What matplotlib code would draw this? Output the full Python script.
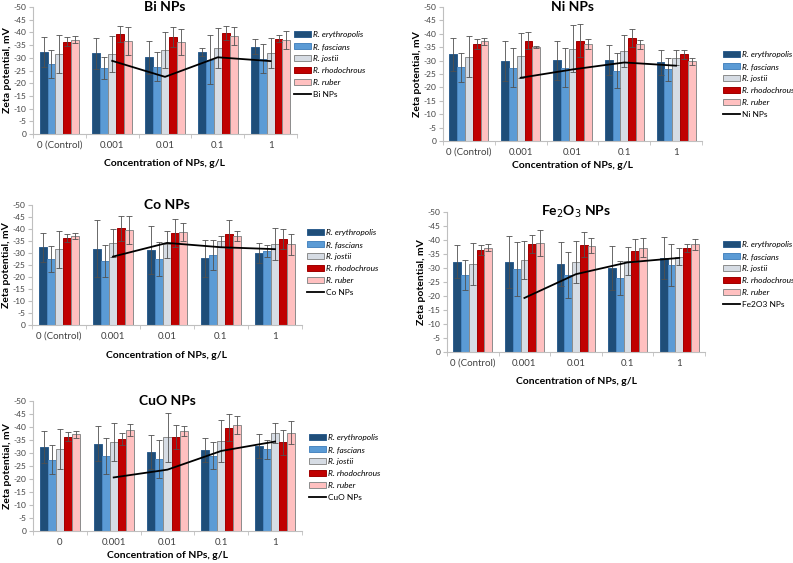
import numpy as np
import matplotlib
matplotlib.use("Agg")
import matplotlib.pyplot as plt

plt.rcParams['font.family'] = ['Lato', 'DejaVu Sans']

# data (zeta potential, mV, plotted as negative values)
species = ['R. erythropolis', 'R. fascians', 'R. jostii', 'R. rhodochrous', 'R. ruber']
conc_labels = ['0 (Control)', '0.001', '0.01', '0.1', '1']
conc_labels_cuo = ['0', '0.001', '0.01', '0.1', '1']

control = [32.3, 27.5, 31.5, 36.3, 37.2]
control_err = [6.0, 5.5, 7.6, 1.8, 1.3]

# rows = species, columns = 0.001, 0.01, 0.1, 1
bi_vals = [[31.7, 30.3, 32.3, 34.3],
           [26.0, 26.5, 29.3, 29.7],
           [31.5, 33.0, 33.8, 31.8],
           [39.5, 38.2, 39.8, 37.5],
           [36.6, 36.2, 38.5, 37.0]]
bi_err = [[6.0, 6.5, 1.5, 3.0],
          [4.5, 5.6, 9.6, 5.7],
          [7.0, 7.0, 7.8, 6.0],
          [3.2, 4.0, 2.6, 1.4],
          [5.5, 5.2, 3.5, 3.4]]
bi_line = [28.8, 22.5, 30.2, 28.7]

ni_vals = [[29.8, 30.1, 30.4, 29.4],
           [27.4, 27.4, 26.2, 26.8],
           [31.8, 34.5, 33.6, 31.1],
           [37.5, 37.5, 38.4, 32.3],
           [35.0, 36.2, 36.1, 29.7]]
ni_err = [[7.4, 7.3, 5.6, 4.6],
          [7.4, 7.4, 6.5, 4.3],
          [8.4, 8.9, 6.0, 2.7],
          [3.2, 6.2, 3.5, 1.7],
          [0.3, 2.0, 1.7, 1.4]]
ni_line = [23.6, 26.7, 29.3, 28.1]

co_vals = [[31.8, 31.3, 27.8, 30.0],
           [26.7, 27.5, 29.3, 30.9],
           [34.1, 33.6, 34.9, 33.7],
           [40.3, 38.3, 37.9, 35.8],
           [39.6, 38.7, 37.1, 33.6]]
co_err = [[12.0, 10.0, 7.6, 4.2],
          [6.7, 7.1, 6.3, 2.5],
          [5.9, 5.6, 2.2, 6.6],
          [5.1, 5.8, 5.7, 4.2],
          [5.8, 3.8, 2.1, 4.3]]
co_line = [28.5, 34.2, 32.4, 31.6]

fe_vals = [[32.1, 31.5, 30.0, 33.6],
           [29.7, 27.6, 26.3, 31.0],
           [32.9, 32.2, 32.5, 34.0],
           [38.6, 38.3, 36.2, 37.2],
           [39.0, 37.9, 37.3, 38.4]]
fe_err = [[9.3, 7.9, 7.8, 7.5],
          [9.7, 8.2, 6.1, 7.5],
          [6.8, 7.5, 5.1, 3.0],
          [3.2, 4.5, 4.2, 1.5],
          [4.6, 2.7, 3.5, 2.1]]
fe_line = [19.3, 27.8, 32.0, 33.6]

cuo_vals = [[33.6, 30.5, 31.1, 32.8],
            [28.9, 27.7, 28.9, 31.4],
            [34.2, 36.0, 34.6, 37.8],
            [35.4, 36.2, 39.8, 34.1],
            [38.8, 38.5, 40.7, 37.8]]
cuo_err = [[6.8, 6.5, 4.5, 4.6],
           [6.9, 7.3, 5.2, 3.6],
           [7.3, 9.4, 8.2, 3.8],
           [2.3, 4.6, 5.2, 4.8],
           [2.3, 1.9, 3.5, 4.5]]
cuo_line = [20.6, 23.6, 30.8, 34.4]

colors = ['#1F4E79', '#5B9BD5', '#D6DCE4', '#C00000', '#FFC0C0']
edges = ['#2F5F8F', '#4A86C0', '#8C8C8C', '#A00000', '#8C8C8C']

W, H = 793, 563
fig = plt.figure(figsize=(W / 100, H / 100), dpi=100)


def panel(rect, title, vals, errs, line, line_label, xlabels, legend_xy, xlabel_y):
    x0, y_top, x1, y_bot = rect
    ax = fig.add_axes([x0 / W, 1 - y_bot / H, (x1 - x0) / W, (y_bot - y_top) / H])
    x = np.arange(5)
    bw = 0.15
    for i in range(5):
        v = [control[i]] + vals[i]
        e = [control_err[i]] + errs[i]
        ax.bar(x + (i - 2) * bw, -np.array(v), bw, color=colors[i], edgecolor=edges[i],
               linewidth=0.7, label=species[i])
        ax.errorbar(x + (i - 2) * bw, -np.array(v), yerr=e, fmt='none', ecolor='#505050',
                    elinewidth=0.6, capsize=2, capthick=0.6)
    ax.plot(x[1:], -np.array(line), color='black', lw=1.3, label=line_label)
    ax.set_ylim(0, -50)
    ax.set_xlim(-0.5, 4.5)
    ax.set_yticks(np.arange(0, -51, -5))
    ax.set_yticklabels([str(t) for t in range(0, -51, -5)])
    ax.set_xticks(x)
    ax.set_xticklabels(xlabels)
    ax.set_xticks(np.arange(-0.5, 5, 1), minor=True)
    ax.tick_params(axis='x', which='major', length=0, labelsize=7, pad=5, colors='#404040')
    ax.tick_params(axis='x', which='minor', length=3, color='#BFBFBF')
    ax.tick_params(axis='y', labelsize=6, length=3, pad=1.5)
    ax.tick_params(axis='y', colors='#BFBFBF', labelcolor='#404040')
    for s in ['top', 'right']:
        ax.spines[s].set_visible(False)
    ax.spines['left'].set_color('#BFBFBF')
    ax.spines['bottom'].set_color('#BFBFBF')
    ax.set_ylabel('Zeta potential, mV', fontsize=7.5, fontweight='bold', labelpad=1)
    fig.text((x0 + x1) / 2 / W, 1 - xlabel_y / H, 'Concentration of NPs, g/L',
             ha='center', va='center', fontsize=7.5, fontweight='bold')
    ax.text(0.5, 1.0, title, transform=ax.transAxes, ha='center', va='center',
            fontsize=10, fontweight='bold')
    handles, labels = ax.get_legend_handles_labels()
    handles = handles[1:] + handles[:1]
    labels = labels[1:] + labels[:1]
    leg = fig.legend(handles, labels, loc='upper left',
                     bbox_to_anchor=(legend_xy[0] / W, 1 - legend_xy[1] / H),
                     frameon=False, fontsize=6, handlelength=2.0, handleheight=0.6,
                     handletextpad=0.3, labelspacing=0.6, borderaxespad=0, borderpad=0)
    for t in leg.get_texts()[:5]:
        t.set_fontstyle('italic')
    return ax


panel((33, 7, 297, 134), 'Bi NPs', bi_vals, bi_err, bi_line, 'Bi NPs',
      conc_labels, (294, 31), 163)
panel((443, 7, 702, 141), 'Ni NPs', ni_vals, ni_err, ni_line, 'Ni NPs',
      conc_labels, (723, 51), 166)
panel((32, 205, 302, 325), 'Co NPs', co_vals, co_err, co_line, 'Co NPs',
      conc_labels, (307, 229), 355)
panel((447, 212, 705, 352), 'Fe$_2$O$_3$ NPs', fe_vals, fe_err, fe_line, 'Fe2O3 NPs',
      conc_labels, (723, 241), 381)
panel((33, 401, 302, 531), 'CuO NPs', cuo_vals, cuo_err, cuo_line, 'CuO NPs',
      conc_labels_cuo, (309, 434), 556)

fig.savefig('out.png', dpi=100)
